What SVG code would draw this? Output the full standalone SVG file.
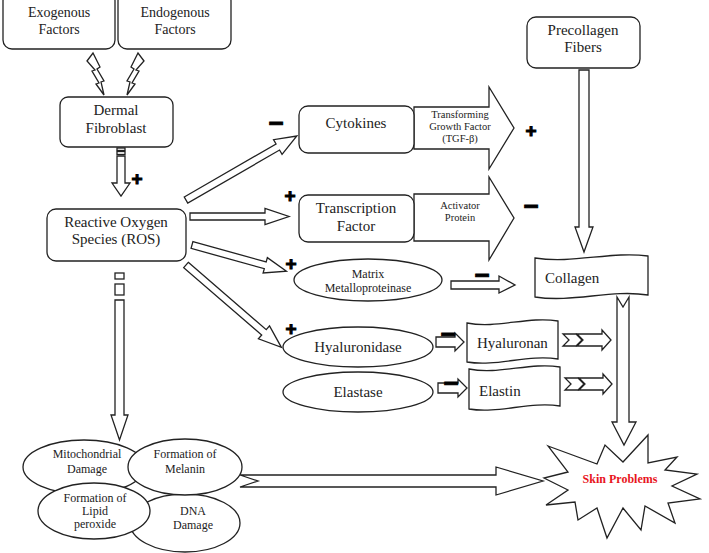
<svg xmlns="http://www.w3.org/2000/svg" width="709" height="553" viewBox="0 0 709 553">
<style>
.b{fill:#fff;stroke:#222;stroke-width:1.3}
.t{fill:#222;text-anchor:middle}
.s15{font-size:15px}
.s14{font-size:14px}
.s12{font-size:12px}
.s10{font-size:10.5px}
.pm{font-weight:bold;fill:#000;stroke:#000;stroke-width:1;text-anchor:middle}
.pl{font-size:19px}
.mi{font-size:26px}
</style>
<rect width="709" height="553" fill="#fff"/>

<g id="connectors">
  <polygon class="b" points="87,61 93,53 100,67 97,69 104,81 101,82 104,95 96,84 99,83 92,71 95,70"/>
  <polygon class="b" points="144,61 138,53 131,67 134,69 127,81 130,82 127,95 135,84 132,83 139,71 136,70"/>
  <rect class="b" x="117" y="148" width="8" height="2.5"/>
  <rect class="b" x="117" y="151.5" width="8" height="3"/>
  <polygon class="b" points="117,156 125,156 125,183 130,183 121,196 112,183 117,183"/>
  <rect class="b" x="115" y="273" width="9" height="6"/>
  <rect class="b" x="115" y="284" width="9" height="11"/>
  <polygon class="b" points="115,300 124,300 124,415 128,415 119.5,440 111,415 115,415"/>
  <polygon class="b" transform="translate(186,200) rotate(-30)" points="0,-3.5 106,-3.5 106,-8.5 128,0 106,8.5 106,3.5 0,3.5"/>
  <polygon class="b" points="190,213 265,213 265,208.5 289,216.5 265,224.5 265,220 190,220"/>
  <polygon class="b" transform="translate(192,245) rotate(15.5)" points="0,-3.5 76,-3.5 76,-8 98,0 76,8 76,3.5 0,3.5"/>
  <polygon class="b" transform="translate(186,265) rotate(40.8)" points="0,-3.5 103,-3.5 103,-8.5 126,0 103,8.5 103,3.5 0,3.5"/>
  <polygon class="b" points="414,107 489,107 489,87 514,128 489,169 489,149 414,149"/>
  <polygon class="b" points="414,194 489,194 489,177 514,218 489,260 489,241 414,241"/>
  <polygon class="b" points="451,281 499,281 499,276 515,285 499,293 499,289 451,289"/>
  <polygon class="b" points="579,70 589,70 589,227 593,227 584,252 575,227 579,227"/>
  <polygon class="b" points="617,297 623,307 629,297 629,422 636,422 624,445 612,422 617,422"/>
  <polygon class="b" points="436,337 455,337 455,333 464,342 455,351 455,347 436,347"/>
  <polygon class="b" points="438,383 458,383 458,379 467,388 458,397 458,393 438,393"/>
  <polygon class="b" points="563,334 576,334 582,340 576,346 563,346 569,340"/>
  <polygon class="b" points="577,334 602,334 602,330 611,340 602,350 602,346 577,346 583,340"/>
  <polygon class="b" points="565,378 578,378 584,384 578,390 565,390 571,384"/>
  <polygon class="b" points="579,378 603,378 603,374 612,384 603,394 603,390 579,390 585,384"/>
  <polygon class="b" points="240,475 496,475 496,467 543,481 496,495 496,487 240,487 258,481"/>
</g>

<g id="signs" style="font-family:'Liberation Sans',Arial,sans-serif">
  <text class="pm pl" x="137" y="185">+</text>
  <text class="pm pl" x="531" y="137">+</text>
  <text class="pm pl" x="290" y="202">+</text>
  <text class="pm pl" x="291" y="270">+</text>
  <text class="pm pl" x="291" y="335">+</text>
  <text class="pm mi" x="276" y="132">−</text>
  <text class="pm mi" x="531" y="215">−</text>
  <text class="pm mi" x="482" y="284">−</text>
  <text class="pm mi" x="448" y="343">−</text>
  <text class="pm mi" x="451" y="392">−</text>
</g>

<g id="nodes" style="font-family:'Liberation Serif','Times New Roman',serif">
<g id="exogenous">
  <rect class="b" x="3" y="-8" width="112" height="57" rx="9"/>
  <text class="t s14" x="59" y="17">Exogenous</text>
  <text class="t s14" x="59" y="34">Factors</text>
</g>
<g id="endogenous">
  <rect class="b" x="118" y="-8" width="113" height="57" rx="9"/>
  <text class="t s14" x="175" y="17">Endogenous</text>
  <text class="t s14" x="175" y="34">Factors</text>
</g>
<g id="dermal">
  <rect class="b" x="60" y="97" width="113" height="50" rx="8"/>
  <text class="t s15" x="116" y="115">Dermal</text>
  <text class="t s15" x="116" y="133">Fibroblast</text>
</g>
<g id="ros">
  <rect class="b" x="47" y="209" width="139" height="52" rx="9"/>
  <text class="t s15" x="116" y="227">Reactive Oxygen</text>
  <text class="t s15" x="116" y="244">Species (ROS)</text>
</g>
<g id="cytokines">
  <rect class="b" x="299" y="106" width="115" height="47" rx="9"/>
  <text class="t s15" x="356" y="128">Cytokines</text>
</g>
<g id="tgf">
  <text class="t s10" x="460" y="118">Transforming</text>
  <text class="t s10" x="460" y="130">Growth Factor</text>
  <text class="t s10" x="460" y="142">(TGF-β)</text>
</g>
<g id="transcription">
  <rect class="b" x="299" y="195" width="115" height="47" rx="9"/>
  <text class="t s15" x="356" y="213">Transcription</text>
  <text class="t s15" x="356" y="231">Factor</text>
</g>
<g id="activator">
  <text class="t s10" x="460" y="209">Activator</text>
  <text class="t s10" x="460" y="221">Protein</text>
</g>
<g id="mmp">
  <ellipse class="b" cx="368" cy="280" rx="74" ry="21"/>
  <text class="t s12" x="368" y="278">Matrix</text>
  <text class="t s12" x="368" y="292">Metalloproteinase</text>
</g>
<g id="precollagen">
  <rect class="b" x="527" y="17" width="113" height="51" rx="9"/>
  <text class="t s15" x="583" y="35">Precollagen</text>
  <text class="t s15" x="583" y="52">Fibers</text>
</g>
<g id="collagen">
  <path class="b" d="M535,258 C573,264 611,251 648,256 L648,295 C611,289 573,303 535,297 Z"/>
  <text class="t s15" x="545" y="283" style="text-anchor:start">Collagen</text>
</g>
<g id="hyaluronidase">
  <ellipse class="b" cx="358" cy="347" rx="75" ry="20"/>
  <text class="t s15" x="358" y="352">Hyaluronidase</text>
</g>
<g id="elastase">
  <ellipse class="b" cx="358" cy="392" rx="75" ry="20"/>
  <text class="t s15" x="358" y="397">Elastase</text>
</g>
<g id="hyaluronan">
  <path class="b" d="M467,323 C497,329 528,316 558,321 L558,359 C528,354 497,367 467,362 Z"/>
  <text class="t s15" x="477" y="348" style="text-anchor:start">Hyaluronan</text>
</g>
<g id="elastin">
  <path class="b" d="M469,369 C499,375 530,362 560,367 L560,406 C530,401 499,414 469,409 Z"/>
  <text class="t s15" x="479" y="396" style="text-anchor:start">Elastin</text>
</g>
<g id="mitochondrial">
  <ellipse class="b" cx="84" cy="467" rx="61" ry="27"/>
  <text class="t s12" x="87" y="458">Mitochondrial</text>
  <text class="t s12" x="87" y="473">Damage</text>
</g>
<g id="dna">
  <ellipse class="b" cx="185" cy="523" rx="55" ry="29"/>
  <text class="t s12" x="193" y="515">DNA</text>
  <text class="t s12" x="193" y="529">Damage</text>
</g>
<g id="melanin">
  <ellipse class="b" cx="185" cy="467" rx="57" ry="28"/>
  <text class="t s12" x="185" y="458">Formation of</text>
  <text class="t s12" x="185" y="473">Melanin</text>
</g>
<g id="lipid">
  <ellipse class="b" cx="94" cy="511" rx="56" ry="28"/>
  <text class="t s12" x="95" y="502">Formation of</text>
  <text class="t s12" x="95" y="515">Lipid</text>
  <text class="t s12" x="95" y="528">peroxide</text>
</g>
<g id="skin">
  <polygon class="b" points="548,446 597,464 605,445 623,462 648,435 648,463 677,457 665,470 697,474 672,486 700,499 668,503 675,523 645,506 641,530 623,508 607,538 597,508 578,520 575,502 546,505 568,490 544,478 568,472"/>
  <text x="620" y="483" style="font-size:12px;font-weight:bold;fill:#e8141c;text-anchor:middle">Skin Problems</text>
</g>
</g>
</svg>
